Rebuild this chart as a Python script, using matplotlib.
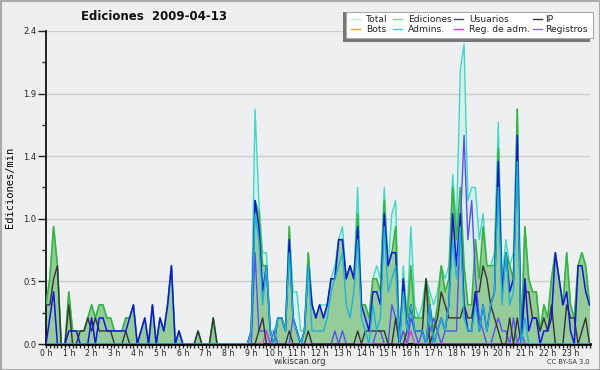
import numpy as np
import matplotlib

matplotlib.use("Agg")
import matplotlib.pyplot as plt
from matplotlib.lines import Line2D
from matplotlib.patches import Rectangle

# ============================================
# DATA (edits per minute, 10-minute bins)
# ============================================

hour_labels = [f"{h} h" for h in range(24)]

total = [
    0.3, 0.5, 0.9, 0.6, 0.0, 0.0,  0.4, 0.1, 0.1, 0.1, 0.1, 0.2,
    0.3, 0.2, 0.3, 0.3, 0.2, 0.2,  0.1, 0.1, 0.1, 0.2, 0.2, 0.3,
    0.0, 0.1, 0.2, 0.0, 0.3, 0.0,  0.2, 0.1, 0.3, 0.6, 0.0, 0.1,
    0.0, 0.0, 0.0, 0.0, 0.1, 0.0,  0.0, 0.0, 0.2, 0.0, 0.0, 0.0,
    0.0, 0.0, 0.0, 0.0, 0.0, 0.0,  0.1, 1.8, 1.1, 0.7, 0.7, 0.1,
    0.1, 0.2, 0.2, 0.1, 0.9, 0.4,  0.4, 0.1, 0.1, 0.7, 0.3, 0.2,
    0.3, 0.3, 0.3, 0.5, 0.6, 0.8,  0.9, 0.5, 0.6, 0.5, 1.2, 0.3,
    0.3, 0.2, 0.5, 0.6, 0.5, 1.2,  0.6, 1.0, 1.1, 0.0, 0.6, 0.2,
    0.9, 0.3, 0.2, 0.3, 0.5, 0.4,  0.3, 0.4, 0.6, 0.5, 0.6, 1.3,
    0.9, 2.1, 2.3, 1.1, 1.2, 1.2,  0.8, 1.0, 0.6, 0.6, 0.7, 1.7,
    0.5, 0.8, 0.6, 0.7, 1.8, 0.1,  0.9, 0.5, 0.4, 0.4, 0.1, 0.3,
    0.2, 0.5, 0.7, 0.5, 0.3, 0.7,  0.3, 0.2, 0.6, 0.7, 0.6, 0.3,
]

ediciones = [
    0.3, 0.5, 0.9, 0.6, 0.0, 0.0,  0.4, 0.1, 0.1, 0.1, 0.1, 0.2,
    0.3, 0.2, 0.3, 0.3, 0.2, 0.2,  0.1, 0.1, 0.1, 0.2, 0.2, 0.3,
    0.0, 0.1, 0.2, 0.0, 0.3, 0.0,  0.2, 0.1, 0.3, 0.6, 0.0, 0.1,
    0.0, 0.0, 0.0, 0.0, 0.1, 0.0,  0.0, 0.0, 0.2, 0.0, 0.0, 0.0,
    0.0, 0.0, 0.0, 0.0, 0.0, 0.0,  0.1, 1.1, 1.0, 0.6, 0.6, 0.1,
    0.0, 0.2, 0.2, 0.1, 0.9, 0.2,  0.1, 0.0, 0.1, 0.7, 0.3, 0.2,
    0.3, 0.2, 0.3, 0.5, 0.5, 0.8,  0.8, 0.5, 0.6, 0.5, 1.0, 0.3,
    0.3, 0.2, 0.5, 0.5, 0.4, 1.1,  0.6, 0.7, 0.9, 0.0, 0.5, 0.2,
    0.6, 0.2, 0.2, 0.2, 0.5, 0.3,  0.1, 0.3, 0.6, 0.4, 0.5, 1.2,
    0.8, 1.2, 0.6, 0.3, 0.3, 0.8,  0.5, 0.9, 0.6, 0.6, 0.6, 1.5,
    0.4, 0.7, 0.6, 0.5, 1.8, 0.0,  0.9, 0.5, 0.4, 0.4, 0.1, 0.3,
    0.2, 0.5, 0.7, 0.5, 0.3, 0.7,  0.3, 0.2, 0.6, 0.7, 0.6, 0.3,
]

usuarios = [
    0.0, 0.2, 0.4, 0.0, 0.0, 0.0,  0.1, 0.1, 0.1, 0.0, 0.0, 0.0,
    0.2, 0.0, 0.2, 0.2, 0.1, 0.1,  0.1, 0.1, 0.1, 0.1, 0.2, 0.3,
    0.0, 0.1, 0.2, 0.0, 0.3, 0.0,  0.2, 0.1, 0.3, 0.6, 0.0, 0.1,
    0.0, 0.0, 0.0, 0.0, 0.0, 0.0,  0.0, 0.0, 0.0, 0.0, 0.0, 0.0,
    0.0, 0.0, 0.0, 0.0, 0.0, 0.0,  0.1, 1.1, 0.9, 0.4, 0.6, 0.1,
    0.0, 0.2, 0.2, 0.1, 0.8, 0.2,  0.1, 0.0, 0.1, 0.6, 0.3, 0.2,
    0.3, 0.2, 0.3, 0.5, 0.5, 0.8,  0.8, 0.5, 0.6, 0.5, 0.9, 0.3,
    0.2, 0.1, 0.4, 0.4, 0.3, 1.0,  0.6, 0.7, 0.7, 0.0, 0.5, 0.1,
    0.3, 0.1, 0.1, 0.1, 0.0, 0.3,  0.0, 0.1, 0.2, 0.1, 0.3, 1.0,
    0.6, 1.0, 0.3, 0.1, 0.1, 0.4,  0.1, 0.3, 0.1, 0.3, 0.4, 1.4,
    0.4, 0.7, 0.4, 0.5, 1.6, 0.0,  0.5, 0.1, 0.2, 0.2, 0.0, 0.1,
    0.1, 0.2, 0.7, 0.5, 0.3, 0.4,  0.1, 0.0, 0.6, 0.6, 0.4, 0.3,
]

ip = [
    0.3, 0.3, 0.5, 0.6, 0.0, 0.0,  0.3, 0.0, 0.0, 0.1, 0.1, 0.2,
    0.1, 0.2, 0.1, 0.1, 0.1, 0.1,  0.0, 0.0, 0.0, 0.1, 0.0, 0.0,
    0.0, 0.0, 0.0, 0.0, 0.0, 0.0,  0.0, 0.0, 0.0, 0.0, 0.0, 0.0,
    0.0, 0.0, 0.0, 0.0, 0.1, 0.0,  0.0, 0.0, 0.2, 0.0, 0.0, 0.0,
    0.0, 0.0, 0.0, 0.0, 0.0, 0.0,  0.0, 0.0, 0.1, 0.2, 0.0, 0.0,
    0.0, 0.0, 0.0, 0.0, 0.1, 0.0,  0.0, 0.0, 0.0, 0.1, 0.0, 0.0,
    0.0, 0.0, 0.0, 0.0, 0.0, 0.0,  0.0, 0.0, 0.0, 0.0, 0.1, 0.0,
    0.1, 0.1, 0.1, 0.1, 0.1, 0.1,  0.0, 0.0, 0.2, 0.0, 0.0, 0.1,
    0.3, 0.1, 0.1, 0.1, 0.5, 0.0,  0.1, 0.2, 0.4, 0.3, 0.2, 0.2,
    0.2, 0.2, 0.3, 0.2, 0.2, 0.4,  0.4, 0.6, 0.5, 0.3, 0.2, 0.1,
    0.0, 0.0, 0.2, 0.0, 0.2, 0.0,  0.4, 0.4, 0.2, 0.2, 0.1, 0.2,
    0.1, 0.3, 0.0, 0.0, 0.0, 0.3,  0.2, 0.2, 0.0, 0.1, 0.2, 0.0,
]

admins = [
    0.0, 0.0, 0.0, 0.0, 0.0, 0.0,  0.0, 0.0, 0.0, 0.0, 0.0, 0.0,
    0.0, 0.0, 0.0, 0.0, 0.0, 0.0,  0.0, 0.0, 0.0, 0.0, 0.0, 0.0,
    0.0, 0.0, 0.0, 0.0, 0.0, 0.0,  0.0, 0.0, 0.0, 0.0, 0.0, 0.0,
    0.0, 0.0, 0.0, 0.0, 0.0, 0.0,  0.0, 0.0, 0.0, 0.0, 0.0, 0.0,
    0.0, 0.0, 0.0, 0.0, 0.0, 0.0,  0.1, 1.0, 0.8, 0.3, 0.6, 0.1,
    0.0, 0.2, 0.2, 0.1, 0.7, 0.2,  0.1, 0.0, 0.1, 0.6, 0.1, 0.1,
    0.1, 0.1, 0.2, 0.4, 0.5, 0.6,  0.7, 0.3, 0.2, 0.4, 0.8, 0.2,
    0.1, 0.0, 0.3, 0.1, 0.2, 0.9,  0.4, 0.5, 0.6, 0.0, 0.4, 0.1,
    0.3, 0.1, 0.1, 0.1, 0.0, 0.3,  0.0, 0.1, 0.2, 0.1, 0.3, 0.8,
    0.5, 0.9, 0.2, 0.1, 0.1, 0.3,  0.1, 0.3, 0.1, 0.3, 0.4, 1.2,
    0.3, 0.7, 0.3, 0.4, 1.4, 0.0,  0.2, 0.0, 0.0, 0.0, 0.0, 0.0,
    0.0, 0.0, 0.0, 0.0, 0.0, 0.0,  0.0, 0.0, 0.0, 0.0, 0.0, 0.0,
]

registros = [
    0.0, 0.0, 0.0, 0.0, 0.0, 0.0,  0.0, 0.0, 0.0, 0.0, 0.0, 0.0,
    0.0, 0.0, 0.0, 0.0, 0.0, 0.0,  0.0, 0.0, 0.0, 0.0, 0.0, 0.0,
    0.0, 0.0, 0.0, 0.0, 0.0, 0.0,  0.0, 0.0, 0.0, 0.0, 0.0, 0.0,
    0.0, 0.0, 0.0, 0.0, 0.0, 0.0,  0.0, 0.0, 0.0, 0.0, 0.0, 0.0,
    0.0, 0.0, 0.0, 0.0, 0.0, 0.0,  0.0, 0.7, 0.1, 0.1, 0.1, 0.0,
    0.1, 0.0, 0.0, 0.0, 0.0, 0.2,  0.1, 0.0, 0.0, 0.0, 0.0, 0.0,
    0.0, 0.0, 0.0, 0.0, 0.1, 0.0,  0.1, 0.0, 0.0, 0.0, 0.0, 0.0,
    0.0, 0.0, 0.0, 0.1, 0.1, 0.0,  0.0, 0.3, 0.2, 0.0, 0.1, 0.0,
    0.2, 0.1, 0.0, 0.1, 0.0, 0.1,  0.2, 0.1, 0.0, 0.1, 0.1, 0.1,
    0.1, 0.9, 1.6, 0.8, 1.1, 0.5,  0.2, 0.1, 0.0, 0.0, 0.1, 0.2,
    0.1, 0.1, 0.0, 0.2, 0.0, 0.1,  0.0, 0.0, 0.0, 0.0, 0.0, 0.0,
    0.0, 0.0, 0.0, 0.0, 0.0, 0.0,  0.0, 0.0, 0.0, 0.0, 0.0, 0.0,
]

bots = [0.0] * 144

reg_adm = [0.0] * 144
reg_adm[58] = 0.1
reg_adm[96] = 0.1

# ============================================
# STYLE
# ============================================

BG = "#eeeff1"
C = {
    "total": "#3fd8c8",
    "total_fill": "#d6efec",
    "ed": "#3cb43c",
    "ed_fill": "#96cc9a",
    "usu": "#1414dc",
    "ip": "#333333",
    "bots": "#f0a030",
    "adm": "#1eb2dc",
    "regadm": "#d040e0",
    "reg": "#5a50f0",
}
W, H = 600.0, 370.0

fig = plt.figure(figsize=(6.0, 3.7), dpi=100)
fig.patch.set_facecolor(BG)
ax = fig.add_axes([46 / W, 1 - 344 / H, 543.5 / W, 313 / H])
ax.set_facecolor(BG)

x = np.arange(len(total))

ax.fill_between(x, total, color=C["total_fill"], lw=0, zorder=1)
ax.fill_between(x, ediciones, color=C["ed_fill"], lw=0, zorder=2)
ax.plot(x, total, color=C["total"], lw=1.0, zorder=3)
ax.plot(x, ediciones, color=C["ed"], lw=1.2, zorder=4)
ax.plot(x, registros, color=C["reg"], lw=1.0, zorder=5)
ax.plot(x, bots, color=C["bots"], lw=0.8, zorder=4.5, alpha=0)
ax.plot(x, reg_adm, color=C["regadm"], lw=1.0, zorder=5.5)
ax.plot(x, ip, color=C["ip"], lw=1.0, zorder=6)
ax.plot(x, usuarios, color=C["usu"], lw=1.1, zorder=7)
ax.plot(x, admins, color=C["adm"], lw=1.0, zorder=8)

ax.set_xlim(0, len(total) - 1)
ax.set_ylim(0, 2.4)

# y ticks: every 0.24, labelled every other one (long), the rest short
yt = np.arange(11) * 0.24
ax.set_yticks(yt[::2])
ax.set_yticklabels([f"{v:.1f}" for v in yt[::2]])
ax.set_yticks(yt[1::2], minor=True)
for v in yt[2::2]:
    ax.axhline(v, color="#cccccc", lw=1.0, zorder=0.5)

ax.set_xticks(np.arange(0, 144, 6))
ax.set_xticklabels(hour_labels)
ax.set_xticks(np.arange(0, 144), minor=True)

ax.tick_params(axis="y", which="major", direction="out", length=6, width=1,
               labelsize=6, colors="#222222", pad=1)
ax.tick_params(axis="y", which="minor", direction="out", length=3, width=1,
               colors="#222222")
ax.tick_params(axis="x", which="both", direction="out", length=3, width=1,
               labelsize=5.6, colors="#222222", pad=0.5)

for s in ["top", "right"]:
    ax.spines[s].set_visible(False)
ax.spines["left"].set_linewidth(1.2)
ax.spines["bottom"].set_linewidth(2.0)

ax.set_ylabel("Ediciones/min", family="DejaVu Sans Mono", fontsize=7.5,
              labelpad=6)

fig.text(154 / W, 1 - 17 / H, "Ediciones  2009-04-13", ha="center",
         va="center", fontsize=8.5, fontweight="bold", color="#111111")
fig.text(300 / W, 1 - 362 / H, "wikiscan.org", ha="center", va="center",
         fontsize=6, color="#333333")
fig.text(590 / W, 1 - 362 / H, "CC BY-SA 3.0", ha="right", va="center",
         fontsize=4.8, color="#333333")

# legend box with drop shadow
fig.patches.append(Rectangle((343 / W, 1 - 42 / H), 247 / W, 30 / H,
                             transform=fig.transFigure, facecolor="#777777",
                             edgecolor="none", zorder=10))
fig.patches.append(Rectangle((346 / W, 1 - 38 / H), 247 / W, 26 / H,
                             transform=fig.transFigure, facecolor="white",
                             edgecolor="#aaaaaa", lw=0.8, zorder=11))

legend_items = [
    ("Total", "#b4e8e2", 351, 366, 19), ("Ediciones", "#86d086", 393, 408, 19),
    ("Usuarios", "#3a3ae0", 454, 469, 19), ("IP", "#333333", 533, 545, 19),
    ("Bots", "#f0a040", 351, 366, 29), ("Admins.", "#40d0e0", 393, 408, 29),
    ("Reg. de adm.", "#d040e0", 454, 469, 29), ("Registros", "#8070f0", 533, 545, 29),
]
for label, col, sx, tx, py in legend_items:
    fig.lines.append(Line2D([sx / W, (sx + 9) / W], [1 - py / H, 1 - py / H],
                            transform=fig.transFigure, color=col, lw=1.0,
                            zorder=12))
    fig.text(tx / W, 1 - py / H, label, ha="left", va="center",
             fontsize=6.6, color="#222222", zorder=12)

# outer frame
fig.patches.append(Rectangle((0.5 / W, 0.5 / H), 599 / W, 369 / H,
                             transform=fig.transFigure, facecolor="none",
                             edgecolor="#aaaaaa", lw=1.5, zorder=20))

fig.savefig("out.png", dpi=100, facecolor=BG)
plt.close()
